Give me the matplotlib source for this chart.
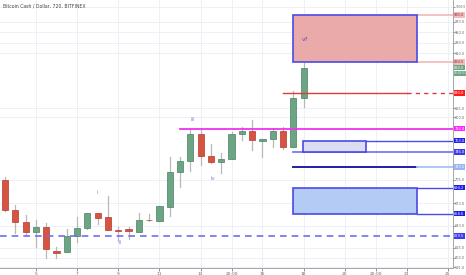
import matplotlib
matplotlib.use("Agg")
import matplotlib.pyplot as plt
from matplotlib.patches import Rectangle
from matplotlib.ticker import NullLocator

# ---------------- data ----------------
opens  = [704.9, 663.6, 647.7, 634.8, 641.2, 610.9, 609.7, 629.7, 639.9, 659.6,
          654.3, 637.4, 638.6, 634.8, 650.5, 649.0, 667.6, 716.4, 732.5, 773.5,
          739.9, 731.0, 735.5, 773.5, 778.1, 762.6, 765.7, 778.1, 753.5, 831.6]
highs  = [709.2, 670.3, 656.9, 650.3, 646.4, 615.9, 638.6, 654.3, 659.6, 660.0,
          682.6, 641.2, 641.2, 659.6, 658.2, 669.5, 738.4, 738.4, 781.3, 781.3,
          758.0, 744.4, 776.6, 784.4, 795.5, 766.0, 782.9, 784.4, 843.5, 892.4]
lows   = [662.2, 633.5, 631.0, 615.9, 602.3, 602.3, 609.7, 622.2, 638.6, 645.1,
          637.0, 623.4, 625.9, 634.8, 649.0, 649.0, 655.6, 695.1, 717.9, 726.6,
          729.6, 715.0, 735.5, 764.2, 749.0, 738.4, 753.5, 750.5, 753.5, 816.7]
closes = [663.6, 647.7, 634.8, 641.2, 613.4, 608.5, 629.7, 639.9, 659.6, 653.0,
          637.4, 636.1, 636.1, 650.3, 649.8, 669.0, 716.4, 732.5, 773.5, 739.9,
          731.0, 735.5, 773.5, 778.1, 764.2, 765.7, 778.1, 753.5, 831.6, 884.0]

xtick_pos = [3, 7, 11, 15, 19, 22, 25, 29, 33, 36, 39, 43]
xtick_lab = ["5", "7", "9", "11", "13", "20:00", "16", "18", "20", "20:00", "23", "25"]

ytick_vals = [591, 603, 615, 643, 673, 705, 800, 815, 910, 930, 950, 970, 1000]

# drawn levels / zones
zone_top = (983.0, 894.5)          # target zone (v?)
zone_small = (763.0, 746.0)
zone_bottom = (694.2, 658.6)
red_level = 840.0
magenta_level = 782.0
navy_level = 723.5
dashed_level = 629.5

wave_labels = ["i", "ii", "iii", "iv", "v?"]
wave_x = [9.0, 11.2, 18.25, 20.2, 29.1]
wave_y = [687.0, 621.0, 797.0, 707.7, 935.0]

countdown = "06:35:51"

# ---------------- figure ----------------
W, H = 466, 275
fig = plt.figure(figsize=(W / 100, H / 100), dpi=100)
ax = fig.add_axes([0, 7 / H, 453 / W, 268 / H])
ax.set_yscale("log")
ax.set_xlim(-0.485, 43.5)
ax.set_ylim(590.4, 1013.3)
ax.yaxis.set_minor_locator(NullLocator())

# grid
for xp in xtick_pos:
    ax.axvline(xp, color="#edf1f7", lw=0.7, zorder=0)
for yv in ytick_vals:
    ax.axhline(yv, color="#edf1f7", lw=0.7, zorder=0)

GREEN = "#6ba583"
RED = "#d75442"
for i, (o, h, l, c) in enumerate(zip(opens, highs, lows, closes)):
    col = GREEN if c >= o else RED
    edge = "#4a8062" if c >= o else "#b03a2c"
    ax.plot([i, i], [l, h], color="#b8b8b8", lw=0.9, zorder=2)
    lo, hi = min(o, c), max(o, c)
    if hi / lo < 1.0015:
        hi = lo * 1.0015
    ax.add_patch(Rectangle((i - 0.3, lo), 0.6, hi - lo, facecolor=col,
                           edgecolor=edge, lw=0.5, zorder=3))

# zones
x0_zone, x1_zone = 27.96, 40.0
ax.add_patch(Rectangle((x0_zone, zone_top[1]), x1_zone - x0_zone,
                       zone_top[0] - zone_top[1], facecolor="#eaaaaa",
                       edgecolor="#4a4ae6", lw=1.2, zorder=4))
for v in zone_top:
    ax.plot([x1_zone, 43.5], [v, v], color="#f2bcbc", lw=1.3, zorder=3)

ax.add_patch(Rectangle((28.93, zone_small[1]), 35.05 - 28.93,
                       zone_small[0] - zone_small[1], facecolor="#dcdcf2",
                       edgecolor="#4a4ae6", lw=1.2, zorder=4))
ax.plot([35.05, 43.5], [zone_small[0], zone_small[0]], color="#4a4ae6", lw=1.0, zorder=3)
ax.plot([27.96, 43.5], [zone_small[1], zone_small[1]], color="#7a7af0", lw=1.3, zorder=3)

ax.add_patch(Rectangle((x0_zone, zone_bottom[1]), x1_zone - x0_zone,
                       zone_bottom[0] - zone_bottom[1], facecolor="#b3cbf5",
                       edgecolor="#4a4ae6", lw=1.2, zorder=4))
for v in zone_bottom:
    ax.plot([x1_zone, 43.5], [v, v], color="#4a4ae6", lw=1.0, zorder=3)

# lines
ax.plot([27.0, 39.03], [red_level, red_level], color="#e23a3a", lw=1.0, zorder=3)
ax.plot([39.03, 43.5], [red_level, red_level], color="#e23a3a", lw=1.0,
        ls=(0, (3, 3)), zorder=3)
ax.plot([17.0, 43.5], [magenta_level, magenta_level], color="#ee33ee", lw=1.3, zorder=3)
ax.plot([27.96, 40.0], [navy_level, navy_level], color="#1f1fa8", lw=1.4, zorder=3)
ax.plot([40.0, 43.5], [navy_level, navy_level], color="#a8c2f2", lw=1.3, zorder=3)
ax.plot([-0.485, 43.5], [dashed_level, dashed_level], color="#6f6ff2", lw=1.2,
        ls=(0, (4, 3)), zorder=3)

# wave labels
for t, xv, yv in zip(wave_labels, wave_x, wave_y):
    c = "#5a3fc8" if t == "v?" else "#7f88f0"
    ax.text(xv, yv, t, color=c, fontsize=4.2 if t == "v?" else 4.0,
            ha="center", va="center", zorder=6)

# title
ax.text(0.006, 0.978, "Bitcoin Cash / Dollar, 720, BITFINEX", transform=ax.transAxes,
        fontsize=3.3, color="#444444", ha="left", va="center")

# axes styling
ax.yaxis.tick_right()
ax.set_yticks(ytick_vals)
ax.set_yticklabels([f"{v:.1f}" for v in ytick_vals])
ax.set_xticks(xtick_pos)
ax.set_xticklabels(xtick_lab)
ax.tick_params(axis="x", labelsize=3.2, colors="#666666", length=2, width=0.5, pad=1)
ax.tick_params(axis="y", labelsize=2.5, colors="#666666", length=1.2, width=0.5, pad=0.4)
for lbl, v in zip(ax.get_yticklabels(), ytick_vals):
    if v >= 1000:
        lbl.set_fontsize(2.1)
for s in ["top", "left"]:
    ax.spines[s].set_visible(False)
for s in ["bottom", "right"]:
    ax.spines[s].set_color("#999999")
    ax.spines[s].set_linewidth(0.6)

# right price tags
tags = [
    (zone_top[0], "#f4bcbc", "#8a2a2a"),
    (zone_top[1], "#f4bcbc", "#8a2a2a"),
    (closes[-1], GREEN, "white"),
    (red_level, "#ff1a1a", "white"),
    (magenta_level, "#ff22ff", "white"),
    (zone_small[0], "#2222ee", "white"),
    (zone_small[1], "#3b3bee", "white"),
    (navy_level, "#98b6f0", "white"),
    (zone_bottom[0], "#1e1ee6", "white"),
    (zone_bottom[1], "#1e1ee6", "white"),
    (dashed_level, "#3b3bf0", "white"),
]
for v, bg, fg in tags:
    ax.annotate(f"{v:.1f}", xy=(1.0, v), xycoords=("axes fraction", "data"),
                xytext=(0.9, 0), textcoords="offset points", fontsize=2.6,
                color=fg, ha="left", va="center", zorder=10, annotation_clip=False,
                bbox=dict(boxstyle="square,pad=0.2", fc=bg, ec="none"))
ax.annotate(countdown, xy=(1.0, closes[-1]), xycoords=("axes fraction", "data"),
            xytext=(0.9, -4.0), textcoords="offset points", fontsize=2.1,
            color="white", ha="left", va="center", zorder=10, annotation_clip=False,
            bbox=dict(boxstyle="square,pad=0.2", fc=GREEN, ec="none"))

fig.savefig("out.png", dpi=100)
